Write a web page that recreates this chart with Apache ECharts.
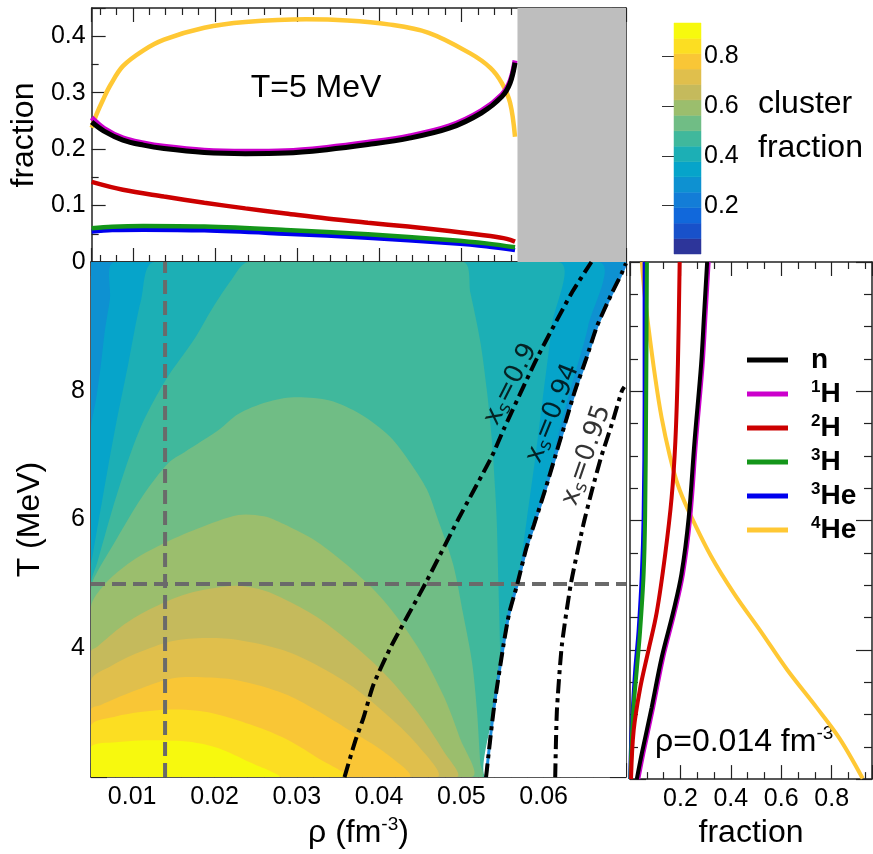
<!DOCTYPE html>
<html><head><meta charset="utf-8">
<script src="https://cdn.jsdelivr.net/npm/echarts@6/dist/echarts.min.js"></script>
<style>html,body{margin:0;padding:0;background:#fff}#c{width:873px;height:854px}</style>
</head><body><div id="c"></div>
<script>
const FONT = '"Liberation Sans", Arial, Helvetica, sans-serif';

// ---------- axis ranges / tick values ----------
const rhoMin = 0.005, rhoMax = 0.07;
const Tmin = 2, Tmax = 10;
const fracTopMax = 0.45;
const fracRightMax = 0.96;
const cbMin = 0.006, cbMax = 0.934;
const cbTicks = [0.2, 0.4, 0.6, 0.8];

// ---------- top panel: fractions vs rho at T = 5 MeV ----------
const topT = 5;
const top_n   = [[0.005,0.248],[0.0065,0.232],[0.0088,0.216],[0.0113,0.207],[0.0138,0.201],[0.0187,0.194],[0.0237,0.192],[0.0286,0.193],[0.0336,0.199],[0.0386,0.208],[0.0435,0.219],[0.0485,0.237],[0.0524,0.264],[0.0549,0.293],[0.0559,0.317],[0.0565,0.353]];
const top_1H  = [[0.005,0.256],[0.0065,0.237],[0.0088,0.220],[0.0113,0.211],[0.0138,0.205],[0.0187,0.198],[0.0237,0.196],[0.0286,0.197],[0.0336,0.203],[0.0386,0.212],[0.0435,0.223],[0.0485,0.241],[0.0524,0.268],[0.0549,0.297],[0.0559,0.321],[0.0565,0.357]];
const top_2H  = [[0.005,0.142],[0.0088,0.128],[0.0138,0.116],[0.0187,0.105],[0.0237,0.095],[0.0286,0.086],[0.0336,0.077],[0.0386,0.0695],[0.0435,0.0627],[0.0485,0.055],[0.0535,0.046],[0.0555,0.041],[0.0565,0.036]];
const top_3H  = [[0.005,0.0597],[0.0075,0.0625],[0.0113,0.0637],[0.0187,0.0627],[0.0286,0.0568],[0.0386,0.049],[0.0485,0.039],[0.053,0.033],[0.0565,0.026]];
const top_3He = [[0.005,0.054],[0.0075,0.0565],[0.0113,0.0573],[0.0187,0.0561],[0.0286,0.0502],[0.0386,0.0431],[0.0485,0.0336],[0.053,0.028],[0.0565,0.021]];
const top_4He = [[0.005,0.238],[0.0056,0.262],[0.0064,0.288],[0.0073,0.314],[0.0088,0.347],[0.0113,0.375],[0.0138,0.394],[0.0187,0.415],[0.0237,0.425],[0.0311,0.430],[0.0361,0.428],[0.0411,0.421],[0.0460,0.406],[0.0510,0.370],[0.0535,0.344],[0.0549,0.317],[0.0559,0.282],[0.0565,0.222]];

// ---------- right panel: fractions vs T at rho = 0.014 fm^-3 ----------
const rightRho = 0.014;
const right_n   = [[0.306,10],[0.294,9.2],[0.282,8.41],[0.256,7.23],[0.233,6.05],[0.204,5.17],[0.171,4.58],[0.125,3.87],[0.086,3.11],[0.047,2.40],[0.027,2.0]];
const right_1H  = [[0.312,10],[0.300,9.2],[0.288,8.41],[0.262,7.23],[0.239,6.05],[0.210,5.17],[0.177,4.58],[0.131,3.87],[0.092,3.11],[0.053,2.40],[0.033,2.0]];
const right_2H  = [[0.197,10],[0.190,8.41],[0.180,7.23],[0.165,6.35],[0.139,5.46],[0.106,4.58],[0.073,3.99],[0.040,3.40],[0.0145,2.75],[0.004,2.0]];
const right_3H  = [[0.067,10],[0.064,7.82],[0.060,6.05],[0.054,5.17],[0.040,4.29],[0.027,3.70],[0.014,3.11],[0.006,2.52],[0.002,2.0]];
const right_3He = [[0.058,10],[0.058,7.82],[0.054,6.05],[0.047,5.17],[0.034,4.29],[0.021,3.70],[0.010,3.0],[0.004,2.5],[0.001,2.0]];
const right_4He = [[0.047,10],[0.058,9.5],[0.073,9.0],[0.099,8.24],[0.125,7.6],[0.158,7.0],[0.19,6.55],[0.23,6.17],[0.32,5.46],[0.413,4.87],[0.518,4.29],[0.622,3.70],[0.74,3.11],[0.831,2.63],[0.923,2.01]];

// ---------- cluster-fraction contour levels (colour bar) ----------
const levelEdges = [0.006,0.068,0.130,0.192,0.254,0.316,0.377,0.439,0.501,0.563,0.625,0.687,0.749,0.811,0.872,0.934];
const bandColors = ['#2d359a','#1851ca','#1168db','#137dd7','#0e91d1','#06a4ca','#1cafb5','#40b89c','#70bd85','#9bbe6d','#c5ba5c','#e0bf4c','#f9c636','#fcde22','#f7f90e'];

const c5L = [[0.005,7.39],[0.00565,7.9],[0.0062,8.4],[0.00666,8.91],[0.0073,9.42],[0.0079,10]];
const c5R = [[0.0667,10],[0.0654,9.0],[0.0632,8.0],[0.0612,7.0],[0.0600,6.0],[0.0585,4.0],[0.0575,2.0]];
const c6L = [[0.005,5.3],[0.0052,5.45],[0.00646,6.37],[0.0079,7.39],[0.0095,8.4],[0.0111,9.42],[0.0127,10]];
const c6R = [[0.0618,10],[0.0610,9.01],[0.0600,8.0],[0.0590,6.98],[0.0579,5.96],[0.0569,5.0],[0.0562,4.0],[0.0557,2.0]];
const c7L = [[0.005,5.0],[0.0058,5.35],[0.0081,6.37],[0.0109,7.39],[0.014,8.15],[0.0176,8.81],[0.0197,9.27],[0.0221,9.73],[0.0241,10]];
const c7R = [[0.0502,10],[0.0511,9.52],[0.0523,8.76],[0.0531,8.0],[0.0537,7.24],[0.0541,6.47],[0.0543,5.96],[0.0545,5.0],[0.0547,4.0],[0.0548,3.0],[0.0549,2.0]];
const c8  = [[0.005,4.9],[0.0054,5.10],[0.0077,5.61],[0.0113,6.37],[0.0144,6.88],[0.0164,7.05],[0.0205,7.39],[0.0229,7.64],[0.0263,7.82],[0.0296,7.90],[0.034,7.85],[0.0377,7.64],[0.0413,7.29],[0.0438,6.88],[0.0458,6.47],[0.0471,6.02],[0.049,5.30],[0.0502,4.54],[0.0513,3.78],[0.0519,3.02],[0.0523,2.21],[0.0525,2.0]];
const c9  = [[0.005,4.64],[0.0067,5.0],[0.0099,5.35],[0.0135,5.61],[0.018,5.86],[0.0229,6.07],[0.026,6.05],[0.0284,5.93],[0.0324,5.66],[0.0365,5.25],[0.0405,4.75],[0.0446,4.04],[0.0478,3.27],[0.0498,2.61],[0.0512,2.0]];
const c10 = [[0.005,3.95],[0.0058,4.03],[0.0087,4.34],[0.0119,4.59],[0.0168,4.85],[0.0225,4.97],[0.026,4.90],[0.0284,4.77],[0.0324,4.49],[0.0365,4.09],[0.0405,3.63],[0.0446,3.02],[0.0478,2.41],[0.0494,2.0]];
const c11 = [[0.005,3.5],[0.0075,3.73],[0.0107,3.93],[0.0148,4.11],[0.019,4.16],[0.0229,4.13],[0.0284,3.97],[0.0324,3.74],[0.0365,3.43],[0.0405,3.02],[0.0446,2.51],[0.047,2.0]];
const c12 = [[0.005,3.05],[0.0062,3.12],[0.0099,3.32],[0.0148,3.53],[0.0185,3.55],[0.0229,3.50],[0.0284,3.30],[0.0324,3.04],[0.0365,2.72],[0.0405,2.40],[0.0436,2.0]];
const c13 = [[0.005,2.8],[0.008,2.94],[0.011,3.01],[0.0145,3.05],[0.018,3.03],[0.0205,2.97],[0.0243,2.82],[0.0284,2.61],[0.0324,2.31],[0.036,2.0]];
const c14 = [[0.005,2.47],[0.008,2.54],[0.011,2.57],[0.014,2.57],[0.017,2.55],[0.0205,2.45],[0.0243,2.23],[0.0278,2.0]];

// x_S iso-lines (x_S = 0.94 is also the edge of the data domain)
const xs090 = [[0.0358,2.0],[0.0371,2.56],[0.0381,2.92],[0.0393,3.43],[0.0415,4.04],[0.0456,5.0],[0.0496,6.0],[0.0537,6.98],[0.0551,7.39],[0.0592,8.51],[0.0634,9.52],[0.0658,10]];
const xs094 = [[0.0530,2.0],[0.0539,3.02],[0.0551,4.04],[0.0558,4.54],[0.0568,5.0],[0.0579,5.56],[0.0588,5.91],[0.0602,6.47],[0.0614,6.98],[0.0626,7.49],[0.0638,8.0],[0.0652,8.51],[0.0665,9.01],[0.0683,9.52],[0.0695,9.83],[0.0700,9.98]];
const xs095 = [[0.0614,2.0],[0.0616,3.02],[0.0622,4.04],[0.0633,5.0],[0.0648,5.91],[0.0659,6.47],[0.0670,6.98],[0.0683,7.49],[0.0695,8.0],[0.0698,8.06]];
const xsNames = ['0.9','0.94','0.95'];

// ---------- derived geometry ----------
const grayStart = xs094.find(p => p[1] === topT)[0];
const BL = [rhoMin, Tmin];
const regions = [
  {color: bandColors[4], smooth:0, pts: [[rhoMin,Tmin],[rhoMin,Tmax],[rhoMax,Tmax],[rhoMax,Tmin]]},
  {color: bandColors[5], smooth:0.3, pts: [BL].concat(c5L, c5R)},
  {color: bandColors[6], smooth:0.3, pts: [BL].concat(c6L, c6R)},
  {color: bandColors[7], smooth:0.3, pts: [BL].concat(c7L, c7R)},
  {color: bandColors[8], smooth:0.3, pts: [BL].concat(c8)},
  {color: bandColors[9], smooth:0.3, pts: [BL].concat(c9)},
  {color: bandColors[10], smooth:0.3, pts: [BL].concat(c10)},
  {color: bandColors[11], smooth:0.3, pts: [BL].concat(c11)},
  {color: bandColors[12], smooth:0.3, pts: [BL].concat(c12)},
  {color: bandColors[13], smooth:0.3, pts: [BL].concat(c13)},
  {color: bandColors[14], smooth:0.3, pts: [BL].concat(c14)},
  {color: '#ffffff', smooth:0.2, pts: xs094.concat([[rhoMax, Tmin]])}
];

const COL = {n:'#000000', H1:'#cc00cc', H2:'#cc0000', H3:'#14961a', He3:'#0000ee', He4:'#ffc834'};
const species = [
  {name:'4He', color:COL.He4, top:top_4He, right:right_4He},
  {name:'3He', color:COL.He3, top:top_3He, right:right_3He},
  {name:'3H',  color:COL.H3,  top:top_3H,  right:right_3H},
  {name:'2H',  color:COL.H2,  top:top_2H,  right:right_2H},
  {name:'1H',  color:COL.H1,  top:top_1H,  right:right_1H},
  {name:'n',   color:COL.n,   top:top_n,   right:right_n}
];
const legendOrder = ['n','1H','2H','3H','3He','4He'];
const legendRich = {'n':'{b|n}','1H':'{sup|1}{b|H}','2H':'{sup|2}{b|H}','3H':'{sup|3}{b|H}','3He':'{sup|3}{b|He}','4He':'{sup|4}{b|He}'};

// ---------- styling helpers ----------
const AX = '#222';
const BASE = {
  type:'value', splitLine:{show:false},
  axisLine:{show:true, onZero:false, lineStyle:{color:AX, width:1.5}},
  axisTick:{show:true, inside:true, length:14, lineStyle:{color:AX, width:1.2}},
  minorTick:{show:true, splitNumber:5, length:7, lineStyle:{color:AX, width:1.2}},
  axisLabel:{show:false, color:'#000', fontFamily:FONT, fontSize:25}
};
function axis(o){
  const r = JSON.parse(JSON.stringify(BASE));
  for (const k in o){
    if (o[k] && typeof o[k]==='object' && !Array.isArray(o[k]) && r[k] && typeof r[k]==='object') Object.assign(r[k], o[k]);
    else r[k] = o[k];
  }
  return r;
}
const nameStyle = {fontFamily:FONT, fontSize:32, color:'#000',
  rich:{t:{fontFamily:FONT, fontSize:32, lineHeight:36, color:'#000'},
        sup:{fontFamily:FONT, fontSize:19, lineHeight:19, verticalAlign:'top', color:'#000'}}};

const xAxes = [
  axis({gridIndex:0, position:'bottom', min:rhoMin, max:rhoMax, splitNumber:6}),
  axis({gridIndex:0, position:'top', min:rhoMin, max:rhoMax, splitNumber:6}),
  axis({gridIndex:1, position:'bottom', min:rhoMin, max:rhoMax, splitNumber:6,
        axisLabel:{show:true, showMinLabel:false, showMaxLabel:false, margin:8},
        name:'{t|ρ (fm}{sup|-3}{t|)}', nameLocation:'middle', nameGap:30, nameTextStyle:nameStyle}),
  axis({gridIndex:1, position:'top', min:rhoMin, max:rhoMax, splitNumber:6}),
  axis({gridIndex:2, position:'bottom', min:0, max:fracRightMax, interval:0.2, minorTick:{splitNumber:3},
        axisLabel:{show:true, showMinLabel:false, showMaxLabel:false, margin:8},
        name:'fraction', nameLocation:'middle', nameGap:31, nameTextStyle:nameStyle}),
  axis({gridIndex:2, position:'top', min:0, max:fracRightMax, interval:0.2, minorTick:{splitNumber:3}}),
  {gridIndex:3, type:'value', min:0, max:1, show:false}
];
const yAxes = [
  axis({gridIndex:0, position:'left', min:0, max:fracTopMax, interval:0.1, minorTick:{splitNumber:2},
        axisLabel:{show:true, showMaxLabel:false, margin:6},
        name:'fraction', nameLocation:'middle', nameGap:45, nameTextStyle:nameStyle}),
  axis({gridIndex:0, position:'right', min:0, max:fracTopMax, interval:0.1, minorTick:{splitNumber:2}}),
  axis({gridIndex:1, position:'left', min:Tmin, max:Tmax, interval:2, axisTick:{length:16}, minorTick:{splitNumber:4, length:8},
        axisLabel:{show:true, showMinLabel:false, showMaxLabel:false, margin:6},
        name:'T (MeV)', nameLocation:'middle', nameGap:45, nameTextStyle:nameStyle}),
  axis({gridIndex:1, position:'right', min:Tmin, max:Tmax, interval:2, axisTick:{length:16}, minorTick:{splitNumber:4, length:8}}),
  axis({gridIndex:2, position:'left', min:Tmin, max:Tmax, interval:2, axisTick:{length:16}, minorTick:{splitNumber:4, length:8}}),
  axis({gridIndex:2, position:'right', min:Tmin, max:Tmax, interval:2, axisTick:{length:16}, minorTick:{splitNumber:4, length:8}}),
  {gridIndex:3, type:'value', position:'right', min:cbMin, max:cbMax, splitLine:{show:false},
   axisLine:{show:false},
   axisTick:{show:true, inside:true, length:12, customValues:cbTicks, lineStyle:{color:'#333', width:1}},
   axisLabel:{show:true, customValues:cbTicks, margin:3, color:'#000', fontFamily:FONT, fontSize:25}}
];

const series = [];
// top panel
species.forEach((s, i) => {
  const o = {type:'line', name:s.name, xAxisIndex:0, yAxisIndex:0, data:s.top, showSymbol:false, symbol:'none',
    smooth:0.35, color:s.color,
    lineStyle:{color:s.color, width:(s.name==='n'||s.name==='1H')?5:4.5}, z:3};
  if (i === 0) o.markArea = {silent:true, itemStyle:{color:'#bebebe'}, data:[[{xAxis:grayStart},{xAxis:rhoMax}]]};
  series.push(o);
});
// right panel
species.forEach(s => {
  series.push({type:'line', name:s.name, xAxisIndex:4, yAxisIndex:4, data:s.right, showSymbol:false, symbol:'none',
    smooth:0.35, color:s.color, lineStyle:{color:s.color, width:4}, z:3});
});
// main map: filled contour regions
series.push({type:'custom', xAxisIndex:2, yAxisIndex:2, silent:true, z:1,
  data: regions.map(r => r.pts[0]),
  renderItem: (params, api) => {
    const r = regions[params.dataIndex];
    const cs = params.coordSys;
    return {type:'polygon',
      shape:{points:r.pts.map(p => api.coord(p)), smooth:r.smooth,
             smoothConstraint:[[cs.x, cs.y],[cs.x + cs.width, cs.y + cs.height]]},
      style:{fill:r.color}};
  }});
// thin blue rim along the domain edge
series.push({type:'line', xAxisIndex:2, yAxisIndex:2, data:xs094, showSymbol:false, symbol:'none', silent:true,
  smooth:0.2, lineStyle:{color:'#1c8ddb', width:3}, z:2});
// dashed guide lines
series.push({type:'line', xAxisIndex:2, yAxisIndex:2, data:[[rightRho,Tmin],[rightRho,Tmax]], showSymbol:false, symbol:'none', silent:true,
  lineStyle:{color:'#6a6a6a', width:4, type:[14,7]}, z:3});
series.push({type:'line', xAxisIndex:2, yAxisIndex:2, data:[[rhoMin,topT],[rhoMax,topT]], showSymbol:false, symbol:'none', silent:true,
  lineStyle:{color:'#6a6a6a', width:4, type:[14,7]}, z:3});
// x_S lines
[xs090, xs094, xs095].forEach(d => series.push({type:'line', xAxisIndex:2, yAxisIndex:2, data:d, showSymbol:false, symbol:'none', silent:true,
  smooth:0.2, lineStyle:{color:'#000', width:4, type:[14,5,4,5]}, z:4}));
// x_S labels
const xsLabelPos = [{rho:0.0560, T:8.10, rot:63}, {rho:0.0611, T:7.65, rot:68}, {rho:0.0652, T:7.0, rot:71}];
const xsRich = {x:{fontFamily:'"DejaVu Sans", sans-serif', fontSize:26, lineHeight:30, color:'#000'},
                s:{fontFamily:'"DejaVu Sans", sans-serif', fontSize:18, lineHeight:18, verticalAlign:'bottom', color:'#000'}};
series.push({type:'scatter', xAxisIndex:2, yAxisIndex:2, symbolSize:1, itemStyle:{color:'rgba(0,0,0,0)'}, silent:true, z:6,
  data: xsLabelPos.map((p, i) => ({value:[p.rho, p.T],
    label:{show:true, position:'inside', rotate:p.rot, formatter:'{x|x}{s|s}{x|=' + xsNames[i] + '}', rich:xsRich}}))});
// colour bar
series.push({type:'custom', xAxisIndex:6, yAxisIndex:6, silent:true,
  data: bandColors.map((c, i) => [0, levelEdges[i]]),
  renderItem: (params, api) => {
    const i = params.dataIndex;
    const a = api.coord([0, levelEdges[i+1]]), b = api.coord([1, levelEdges[i]]);
    return {type:'rect', shape:{x:a[0], y:a[1], width:b[0]-a[0], height:b[1]-a[1]}, style:{fill:bandColors[i], stroke:bandColors[i], lineWidth:0.5}};
  }});

const option = {
  animation:false,
  backgroundColor:'#ffffff',
  grid:[
    {left:91, top:8, width:535, height:254},
    {left:91, top:262, width:535, height:525},
    {left:630, top:262, width:242, height:525},
    {left:674, top:23, width:27, height:231}
  ],
  xAxis:xAxes, yAxis:yAxes,
  legend:{data:legendOrder, orient:'vertical', left:742, top:341, itemWidth:41, itemHeight:5, icon:'rect', itemGap:5,
    formatter: n => legendRich[n],
    textStyle:{fontFamily:FONT, fontSize:28, fontWeight:'bold', color:'#000', padding:[0,0,0,18],
      rich:{b:{fontFamily:FONT, fontSize:28, fontWeight:'bold', lineHeight:30, color:'#000'},
            sup:{fontFamily:FONT, fontSize:17, fontWeight:'bold', lineHeight:17, verticalAlign:'top', color:'#000'}}}},
  graphic:[
    {type:'text', x:316, y:88, silent:true, style:{text:'T=5 MeV', fontFamily:FONT, fontSize:32, fill:'#000', align:'center', verticalAlign:'middle'}},
    {type:'text', x:655, y:742, silent:true, style:{text:'{t|ρ=0.014 fm}{sup|-3}', align:'left', verticalAlign:'middle',
      rich:{t:{fontFamily:FONT, fontSize:32, lineHeight:36, fill:'#000'}, sup:{fontFamily:FONT, fontSize:19, lineHeight:19, verticalAlign:'top', fill:'#000'}}}},
    {type:'text', x:758, y:104, silent:true, style:{text:'cluster', fontFamily:FONT, fontSize:32, fill:'#000', align:'left', verticalAlign:'middle'}},
    {type:'text', x:758, y:148, silent:true, style:{text:'fraction', fontFamily:FONT, fontSize:32, fill:'#000', align:'left', verticalAlign:'middle'}}
  ],
  series:series
};
const chart = echarts.init(document.getElementById('c'), null, {renderer:'canvas'});
chart.setOption(option);
</script></body></html>
